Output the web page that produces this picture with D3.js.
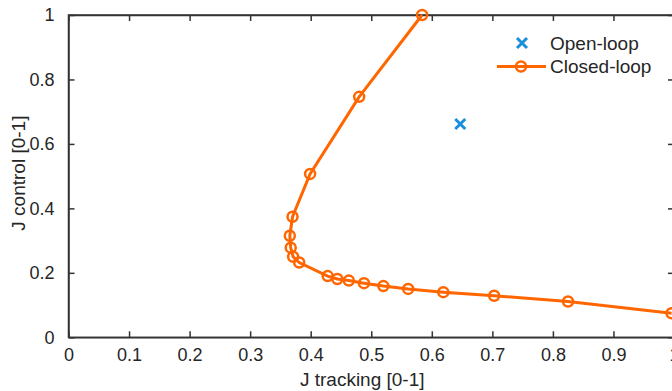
<!DOCTYPE html>
<html>
<head>
<meta charset="utf-8">
<script src="https://cdn.jsdelivr.net/npm/d3@7"></script>
<style>
  body { margin: 0; background: #fff; }
  text { font-family: "Liberation Sans", Arial, sans-serif; fill: #262626; }
  .axis path, .axis line { stroke: #333333; stroke-width: 1.5px; fill: none; }
</style>
</head>
<body>
<div id="chart"></div>
<script>
var width = 672;
var height = 391;

// data
var closedX = [0.584, 0.480, 0.399, 0.370, 0.3655, 0.367, 0.371, 0.381, 0.428, 0.444, 0.463, 0.488, 0.520, 0.561, 0.619, 0.703, 0.825, 0.996];
var closedY = [1.0, 0.746, 0.507, 0.374, 0.315, 0.278, 0.250, 0.232, 0.190, 0.181, 0.176, 0.168, 0.159, 0.150, 0.140, 0.129, 0.111, 0.0745];
var openX = [0.647];
var openY = [0.662];
var xTicks = [0, 0.1, 0.2, 0.3, 0.4, 0.5, 0.6, 0.7, 0.8, 0.9, 1];
var yTicks = [0, 0.2, 0.4, 0.6, 0.8, 1];

var orange = "#ff6600";
var blue = "#1a8fdc";

var svg = d3.select("#chart").append("svg")
    .attr("width", width)
    .attr("height", height);

var margin = { top: 15, left: 68.5 };
var plotW = 605.5;
var plotH = 322.3;

var g = svg.append("g")
    .attr("transform", "translate(" + margin.left + "," + margin.top + ")");

var x = d3.scaleLinear().domain([0, 1]).range([0, plotW]);
var y = d3.scaleLinear().domain([0, 1]).range([plotH, 0]);

function fmt(d) { return d === 0 || d === 1 ? String(d) : d3.format(".1f")(d); }

// box
g.append("rect")
    .attr("x", 0).attr("y", 0)
    .attr("width", plotW).attr("height", plotH)
    .attr("fill", "none")
    .attr("stroke", "#333333")
    .attr("stroke-width", 1.5);

// axes (MATLAB style: inward ticks)
var xAxis = d3.axisBottom(x).tickValues(xTicks).tickFormat(fmt).tickSizeInner(-6).tickSizeOuter(0).tickPadding(14);
var yAxis = d3.axisLeft(y).tickValues(yTicks).tickFormat(fmt).tickSizeInner(-6).tickSizeOuter(0).tickPadding(14);
var xTop = d3.axisTop(x).tickValues(xTicks).tickFormat("").tickSizeInner(-6).tickSizeOuter(0);
var yRight = d3.axisRight(y).tickValues(yTicks).tickFormat("").tickSizeInner(-6).tickSizeOuter(0);

var gx = g.append("g").classed("axis", true).attr("transform", "translate(0," + plotH + ")").call(xAxis);
var gy = g.append("g").classed("axis", true).call(yAxis);
var gt = g.append("g").classed("axis", true).call(xTop);
var gr = g.append("g").classed("axis", true).attr("transform", "translate(" + plotW + ",0)").call(yRight);

[gx, gy, gt, gr].forEach(function (a) {
    a.selectAll("text").style("font-size", "18px").attr("fill", "#262626");
});
gx.selectAll(".tick text").attr("dy", "0.55em");

// axis labels
g.append("text")
    .attr("x", plotW / 2 - 9)
    .attr("y", plotH + 49)
    .attr("text-anchor", "middle")
    .style("font-size", "19px")
    .text("J tracking [0-1]");

g.append("text")
    .attr("transform", "translate(" + (-50) + "," + (plotH / 2 - 3) + ") rotate(-90)")
    .attr("text-anchor", "middle")
    .attr("dy", "0.35em")
    .style("font-size", "19px")
    .text("J control [0-1]");

// closed-loop line
var pts = closedX.map(function (d, i) { return [d, closedY[i]]; });
var line = d3.line().x(function (d) { return x(d[0]); }).y(function (d) { return y(d[1]); });

g.append("path")
    .datum(pts)
    .attr("d", line)
    .attr("fill", "none")
    .attr("stroke", orange)
    .attr("stroke-width", 3);

g.selectAll(".cl")
    .data(pts)
    .enter()
    .append("circle")
    .attr("cx", function (d) { return x(d[0]); })
    .attr("cy", function (d) { return y(d[1]); })
    .attr("r", 5)
    .attr("fill", "none")
    .attr("stroke", orange)
    .attr("stroke-width", 2.5);

// open-loop marker
function cross(sel, cx, cy, s) {
    sel.append("path")
        .attr("d", "M" + (cx - s) + "," + (cy - s) + "L" + (cx + s) + "," + (cy + s) +
                   "M" + (cx - s) + "," + (cy + s) + "L" + (cx + s) + "," + (cy - s))
        .attr("stroke", blue)
        .attr("stroke-width", 3)
        .attr("fill", "none");
}
openX.forEach(function (d, i) { cross(g, x(d), y(openY[i]), 5); });

// legend
var lg = svg.append("g");
cross(lg, 522, 43, 5);
lg.append("text").attr("x", 550).attr("y", 43).attr("dy", "0.35em").style("font-size", "19px").text("Open-loop");
lg.append("line").attr("x1", 497).attr("x2", 546).attr("y1", 66.5).attr("y2", 66.5)
    .attr("stroke", orange).attr("stroke-width", 3);
lg.append("circle").attr("cx", 521).attr("cy", 66.5).attr("r", 5)
    .attr("fill", "none").attr("stroke", orange).attr("stroke-width", 2.5);
lg.append("text").attr("x", 550).attr("y", 66.5).attr("dy", "0.35em").style("font-size", "19px").text("Closed-loop");
</script>
</body>
</html>
